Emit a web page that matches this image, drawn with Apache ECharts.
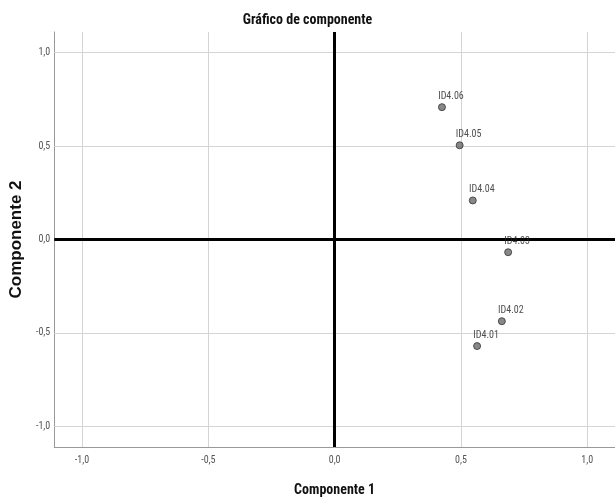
<!DOCTYPE html>
<html>
<head>
<meta charset="utf-8">
<script src="https://cdn.jsdelivr.net/npm/echarts@6/dist/echarts.min.js"></script>
<style>
  html, body { margin: 0; padding: 0; background: #fff; }
  #chart { width: 615px; height: 502px; }
</style>
</head>
<body>
<div id="chart"></div>
<script>
// Component loadings of the ID4 items
const itemNames = ['ID4.01', 'ID4.02', 'ID4.03', 'ID4.04', 'ID4.05', 'ID4.06'];
const component1 = [0.564, 0.662, 0.687, 0.547, 0.495, 0.425];
const component2 = [-0.570, -0.437, -0.068, 0.209, 0.504, 0.708];
const tickValues = [-1.0, -0.5, 0.0, 0.5, 1.0];

const narrow = '"Roboto Condensed", "Liberation Sans Narrow", "Arial Narrow", sans-serif';
const fmt = v => v.toFixed(1).replace('.', ',');

const points = itemNames.map((n, i) => ({ name: n, value: [component1[i], component2[i]] }));

// light reference grid plus heavy zero lines
const gridLines = [];
tickValues.filter(v => v !== 0).forEach(v => {
  gridLines.push({ xAxis: v, lineStyle: { color: '#d4d4d4', width: 1, type: 'solid' } });
  gridLines.push({ yAxis: v, lineStyle: { color: '#d4d4d4', width: 1, type: 'solid' } });
});
gridLines.push({ xAxis: 0, lineStyle: { color: '#000', width: 3, type: 'solid' } });
gridLines.push({ yAxis: 0, lineStyle: { color: '#000', width: 3, type: 'solid' } });

const chart = echarts.init(document.getElementById('chart'), null, { renderer: 'canvas' });
chart.setOption({
  animation: false,
  backgroundColor: '#fff',
  title: {
    text: 'Gráfico de componente',
    left: 'center',
    top: 8,
    textStyle: { fontFamily: narrow, fontSize: 14, fontWeight: 'bold', color: '#111' }
  },
  grid: { left: 53, right: 0, top: 32, bottom: 52 },
  xAxis: {
    type: 'value',
    min: -1.11,
    max: 1.11,
    name: 'Componente 1',
    nameLocation: 'middle',
    nameGap: 36,
    nameTextStyle: { fontFamily: narrow, fontSize: 14, fontWeight: 'bold', color: '#111' },
    axisLine: { show: true, onZero: false, lineStyle: { color: '#999', width: 1 } },
    axisTick: { show: false, customValues: tickValues },
    splitLine: { show: false },
    axisLabel: {
      customValues: tickValues,
      formatter: fmt,
      margin: 8,
      fontFamily: narrow,
      fontSize: 10,
      color: '#555'
    }
  },
  yAxis: {
    type: 'value',
    min: -1.11,
    max: 1.11,
    name: 'Componente 2',
    nameLocation: 'middle',
    nameGap: 19,
    nameTextStyle: { fontFamily: '"Liberation Sans", Arial, sans-serif', fontSize: 17, fontWeight: 'bold', color: '#111' },
    axisLine: { show: true, onZero: false, lineStyle: { color: '#999', width: 1 } },
    axisTick: { show: false, customValues: tickValues },
    splitLine: { show: false },
    axisLabel: {
      customValues: tickValues,
      formatter: fmt,
      margin: 4,
      fontFamily: narrow,
      fontSize: 10,
      color: '#555'
    }
  },
  series: [{
    type: 'scatter',
    data: points,
    symbol: 'circle',
    symbolSize: 7,
    itemStyle: { color: '#6a6a6a', borderColor: '#333', borderWidth: 1 },
    label: {
      show: true,
      position: 'top',
      distance: 2,
      offset: [9, 0],
      formatter: p => p.name,
      fontFamily: narrow,
      fontSize: 10,
      color: '#222'
    },
    markLine: {
      silent: true,
      symbol: 'none',
      label: { show: false },
      z: 1,
      data: gridLines
    },
    z: 5
  }]
});
</script>
</body>
</html>
